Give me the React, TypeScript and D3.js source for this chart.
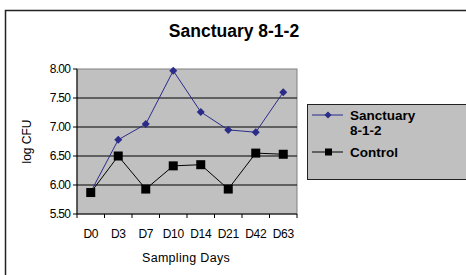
import React from 'react'
import * as d3 from 'd3'

const days = ['D0', 'D3', 'D7', 'D10', 'D14', 'D21', 'D42', 'D63']
const sanctuary = [5.88, 6.78, 7.05, 7.97, 7.26, 6.95, 6.91, 7.6]
const control = [5.87, 6.5, 5.93, 6.33, 6.35, 5.93, 6.55, 6.53]
const yTicks = [5.5, 6.0, 6.5, 7.0, 7.5, 8.0]

const W = 466
const H = 275
const plot = {left: 77, top: 69, right: 297, bottom: 214}
const navy = '#2b2b8a'
const axisFont = '"Liberation Sans", Arial, sans-serif'

const App = () => {
  const x = d3
    .scaleBand()
    .domain(days)
    .range([plot.left, plot.right])
  const y = d3.scaleLinear().domain([5.5, 8]).range([plot.bottom, plot.top])

  const line = d3
    .line<number>()
    .x((d, i) => x(days[i])! + x.bandwidth() / 2)
    .y((d) => y(d))

  const diamond = (cx: number, cy: number, r: number) =>
    `M${cx},${cy - r}L${cx + r},${cy}L${cx},${cy + r}L${cx - r},${cy}Z`

  // tick positions on the category axis sit on band edges
  const xEdges = days.map((d) => x(d)!).concat([plot.right])

  return (
    <svg width={W} height={H} style={{position: 'absolute', left: 0, top: 0}}>
      <rect x={0} y={0} width={W} height={H} fill="white" />
      <rect x={5.5} y={10.5} width={470} height={280} fill="white" stroke="#222" strokeWidth={1.5} />
      <text
        x={234}
        y={37}
        textAnchor="middle"
        fontFamily={axisFont}
        fontWeight="bold"
        fontSize={17.5}
      >
        Sanctuary 8-1-2
      </text>

      {/* plot area */}
      <rect
        x={plot.left}
        y={plot.top}
        width={plot.right - plot.left}
        height={plot.bottom - plot.top}
        fill="#c0c0c0"
        stroke="#808080"
      />
      {yTicks.slice(1, -1).map((t) => (
        <line key={t} x1={plot.left} x2={plot.right} y1={y(t)} y2={y(t)} stroke="black" />
      ))}
      <line x1={plot.left} x2={plot.left} y1={plot.top} y2={plot.bottom} stroke="black" />
      <line x1={plot.left} x2={plot.right} y1={plot.bottom} y2={plot.bottom} stroke="black" />
      {yTicks.map((t) => (
        <g key={t}>
          <line x1={plot.left - 4} x2={plot.left} y1={y(t)} y2={y(t)} stroke="black" />
          <text
            x={plot.left - 7}
            y={y(t)}
            dy="0.35em"
            textAnchor="end"
            fontFamily={axisFont}
            fontSize={12}
            letterSpacing={-0.8}
          >
            {d3.format('.2f')(t)}
          </text>
        </g>
      ))}
      {xEdges.map((e, i) => (
        <line key={i} x1={e} x2={e} y1={plot.bottom} y2={plot.bottom + 4} stroke="black" />
      ))}
      {days.map((d) => (
        <text
          key={d}
          x={x(d)! + x.bandwidth() / 2}
          y={237.5}
          textAnchor="middle"
          fontFamily={axisFont}
          fontSize={12}
          letterSpacing={-0.3}
        >
          {d}
        </text>
      ))}
      <text x={186} y={261.5} textAnchor="middle" fontFamily={axisFont} fontSize={12.5} letterSpacing={0.3}>
        Sampling Days
      </text>
      <text
        transform={`translate(31,${(plot.top + plot.bottom) / 2}) rotate(-90)`}
        textAnchor="middle"
        fontFamily={axisFont}
        fontSize={12}
      >
        log CFU
      </text>

      {/* series: Sanctuary first, Control drawn over it */}
      <path d={line(sanctuary)!} fill="none" stroke={navy} strokeWidth={1} />
      {sanctuary.map((v, i) => {
        const cx = x(days[i])! + x.bandwidth() / 2
        return <path key={i} d={diamond(cx, y(v), 4)} fill={navy} />
      })}
      <path d={line(control)!} fill="none" stroke="black" strokeWidth={1} />
      {control.map((v, i) => {
        const cx = x(days[i])! + x.bandwidth() / 2
        return <rect key={i} x={cx - 4.5} y={y(v) - 4.5} width={9} height={9} fill="black" />
      })}

      {/* legend */}
      <rect x={307.5} y={104.5} width={170} height={75} fill="#c0c0c0" stroke="#222" />
      <line x1={312} x2={343} y1={115} y2={115} stroke={navy} />
      <path d={diamond(328, 115, 3.5)} fill={navy} />
      <text x={350} y={119.5} fontFamily={axisFont} fontWeight="bold" fontSize={13.5}>
        Sanctuary
      </text>
      <text x={350} y={134.5} fontFamily={axisFont} fontWeight="bold" fontSize={13.5}>
        8-1-2
      </text>
      <line x1={312} x2={343} y1={152} y2={152} stroke="black" />
      <rect x={325} y={148.5} width={7} height={7} fill="black" />
      <text x={350} y={156.5} fontFamily={axisFont} fontWeight="bold" fontSize={13.5}>
        Control
      </text>
    </svg>
  )
}

export default App
